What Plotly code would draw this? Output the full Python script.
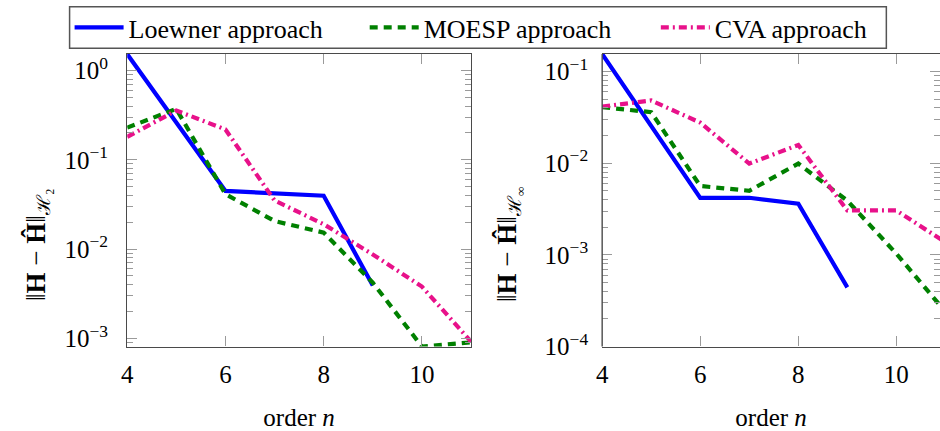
import plotly.graph_objects as go

# ---- data ----
orders = [4, 5, 6, 7, 8, 9, 10, 11]
orders_loewner = [4, 5, 6, 8, 9]

h2_loewner = [1.53, 0.26, 0.0449, 0.0396, 0.0039]
h2_moesp = [0.23, 0.372, 0.0413, 0.0206, 0.0153, 0.0042, 0.00081, 0.00090]
h2_cva = [0.181, 0.357, 0.219, 0.035, 0.019, 0.0087, 0.0038, 0.00092]

orders_loewner_inf = [4, 5, 6, 7, 8, 9]
hinf_loewner = [0.155, 0.0254, 0.00418, 0.0042, 0.00361, 0.000442]
hinf_moesp = [0.0408, 0.036, 0.00564, 0.0050, 0.0099, 0.0039, 0.00103, 0.00024]
hinf_cva = [0.0415, 0.0483, 0.0277, 0.0099, 0.0158, 0.00305, 0.00305, 0.00137]

names = ["Loewner approach", "MOESP approach", "CVA approach"]
colors = ["#0000ff", "#008000", "#e8118a"]
dashes = ["solid", "8px,6px", "8px,4px,2px,4px"]

xticks = [4, 6, 8, 10]
left_yticks = [1e-3, 1e-2, 1e-1, 1]
left_yticktext = ["10<sup>−3</sup>", "10<sup>−2</sup>", "10<sup>−1</sup>", "10<sup>0</sup>"]
right_yticks = [1e-4, 1e-3, 1e-2, 1e-1]
right_yticktext = ["10<sup>−4</sup>", "10<sup>−3</sup>", "10<sup>−2</sup>", "10<sup>−1</sup>"]

left_ytitle = "‖<b>H</b> − <b>Ĥ</b>‖<sub>ℋ₂</sub>"
right_ytitle = "‖<b>H</b> − <b>Ĥ</b>‖<sub>ℋ<sub>∞</sub></sub>"
xtitle = "order <i>n</i>"

FONT = "Liberation Serif, DejaVu Serif, serif"
FS = 25
AXC = "#4a4a4a"
TKC = "#9a9a9a"

# legend sample start positions (px) for each entry
legend_names = ["legend", "legend2", "legend3"]
legend_px = [75, 372, 665]

fig = go.Figure()

left_sets = [(orders_loewner, h2_loewner), (orders, h2_moesp), (orders, h2_cva)]
right_sets = [(orders_loewner_inf, hinf_loewner), (orders, hinf_moesp), (orders, hinf_cva)]

for i, (xs, ys) in enumerate(left_sets):
    fig.add_trace(go.Scatter(x=xs, y=ys, mode="lines", name=names[i],
                             line=dict(color=colors[i], width=4.2, dash=dashes[i]),
                             xaxis="x", yaxis="y", showlegend=True, legend=legend_names[i]))
for i, (xs, ys) in enumerate(right_sets):
    fig.add_trace(go.Scatter(x=xs, y=ys, mode="lines", name=names[i],
                             line=dict(color=colors[i], width=4.2, dash=dashes[i]),
                             xaxis="x2", yaxis="y2", showlegend=False))

xcommon = dict(tickvals=xticks, ticks="inside", ticklen=10, tickcolor=TKC, tickwidth=1.2,
               showgrid=False, zeroline=False, showline=True, linecolor=AXC, linewidth=1.4,
               mirror="ticks", tickfont=dict(family=FONT, size=FS, color="black"),
               ticklabelstandoff=5,
               title=dict(text=xtitle, font=dict(family=FONT, size=FS, color="black"), standoff=22))
ycommon = dict(type="log", ticks="inside", ticklen=10, tickcolor=TKC, tickwidth=1.2,
               showgrid=False, zeroline=False, mirror="ticks",
               tickfont=dict(family=FONT, size=FS, color="black"),
               minor=dict(ticks="inside", ticklen=6, tickcolor=TKC, tickwidth=1, dtick="D1", showgrid=False),
               ticklabelstandoff=13)

legend_common = dict(orientation="h", yanchor="middle", y=1 - 27.5/431, xanchor="left",
                     bgcolor="rgba(0,0,0,0)", borderwidth=0, itemwidth=49,
                     font=dict(family=FONT, size=26, color="black"))

fig.update_layout(
    width=940, height=431,
    margin=dict(l=0, r=0, t=0, b=0),
    paper_bgcolor="white", plot_bgcolor="white",
    font=dict(family=FONT, size=FS, color="black"),
    xaxis=dict(domain=[122/940, 468/940], range=[4, 11], anchor="y", **xcommon),
    yaxis=dict(domain=[1-358/431, 1-55/431], range=[-3.092, 0.185], anchor="x",
               tickvals=left_yticks, ticktext=left_yticktext,
               showline=True, linecolor=AXC, linewidth=1.4, **ycommon),
    xaxis2=dict(domain=[600/940, 1.0], range=[4, 10.89], anchor="y2", **xcommon),
    yaxis2=dict(domain=[1-358/431, 1-55/431], range=[-4, -0.81], anchor="x2",
                tickvals=right_yticks, ticktext=right_yticktext,
                showline=False, **ycommon),
    legend=dict(x=(legend_px[0] - 11)/940, **legend_common),
    legend2=dict(x=(legend_px[1] - 11)/940, **legend_common),
    legend3=dict(x=(legend_px[2] - 11)/940, **legend_common),
    shapes=[
        dict(type="line", xref="x2 domain", yref="y2 domain", x0=0, x1=0, y0=0, y1=1,
             line=dict(color=AXC, width=1.4)),
        dict(type="rect", xref="paper", yref="paper", x0=64/940, x1=886/940,
             y0=1-49/431, y1=1-6/431, line=dict(color="#555555", width=1.5)),
    ],
    annotations=[
        dict(text=left_ytitle, xref="paper", yref="paper", x=32/940, y=1-252/431,
             textangle=-90, showarrow=False, xanchor="center", yanchor="middle",
             font=dict(family=FONT, size=27, color="black")),
        dict(text=right_ytitle, xref="paper", yref="paper", x=507/940, y=1-252/431,
             textangle=-90, showarrow=False, xanchor="center", yanchor="middle",
             font=dict(family=FONT, size=27, color="black")),
    ],
)

fig.write_html("out.html")
